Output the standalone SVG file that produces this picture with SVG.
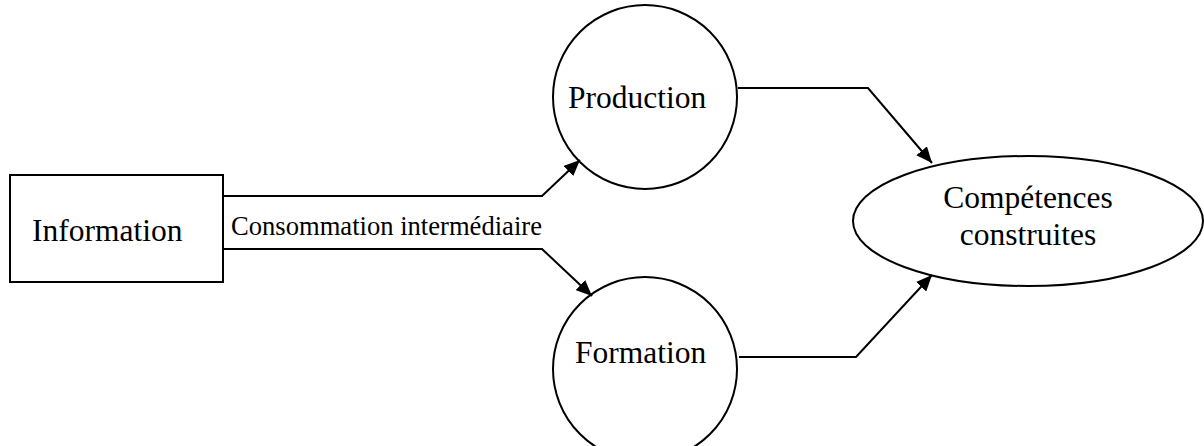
<svg xmlns="http://www.w3.org/2000/svg" width="1204" height="446" viewBox="0 0 1204 446">
<style>
.shape{fill:#fff;stroke:#000;stroke-width:2}
.conn{fill:none;stroke:#000;stroke-width:2}
.t{font-family:"Liberation Serif","Times New Roman",serif;font-size:31.5px;fill:#000}
.lbl{font-family:"Liberation Serif","Times New Roman",serif;font-size:26.6px;fill:#000}
</style>
<defs>
<marker id="arr" markerUnits="userSpaceOnUse" markerWidth="18" markerHeight="14" refX="16" refY="7" orient="auto">
<path d="M0,0 L16,7 L0,14 z" fill="#000"/>
</marker>
</defs>
<rect width="1204" height="446" fill="#fff"/>
<g id="information">
<rect class="shape" x="10" y="175" width="213" height="107"/>
<text class="t" x="32" y="241">Information</text>
</g>
<g id="production">
<circle class="shape" cx="645" cy="97" r="92"/>
<text class="t" x="568" y="108">Production</text>
</g>
<g id="formation">
<circle class="shape" cx="645" cy="369" r="92"/>
<text class="t" x="575" y="363">Formation</text>
</g>
<g id="competences">
<ellipse class="shape" cx="1028" cy="221" rx="175" ry="65"/>
<text class="t" x="1028" y="208" text-anchor="middle">Compétences</text>
<text class="t" x="1028" y="245" text-anchor="middle">construites</text>
</g>
<g id="connectors">
<path class="conn" d="M223,196 H542 L580,160" marker-end="url(#arr)"/>
<path class="conn" d="M223,249 H542 L592,296" marker-end="url(#arr)"/>
<path class="conn" d="M738,88 H868 L932,163" marker-end="url(#arr)"/>
<path class="conn" d="M739,357 H856 L932,275" marker-end="url(#arr)"/>
<text class="lbl" x="231" y="235">Consommation intermédiaire</text>
</g>
</svg>
